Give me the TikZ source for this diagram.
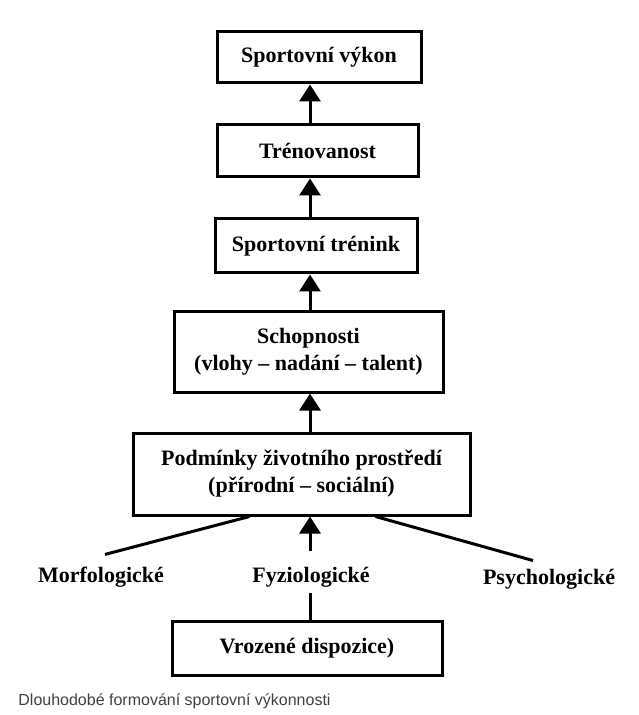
\documentclass[tikz,border=0pt]{standalone}
\usepackage{fontspec}
\setmainfont{Liberation Serif}
\newfontfamily\captionfont{Liberation Sans}
\usetikzlibrary{arrows.meta}

\begin{document}
\begin{tikzpicture}[x=0.5pt,y=-0.5pt]

  \tikzstyle{stage}=[draw, line width=1.5pt, align=center, inner sep=0pt,
                     font=\bfseries\fontsize{11}{13.5}\selectfont]
  \tikzstyle{factor}=[inner sep=0pt, font=\bfseries\fontsize{11}{13.5}\selectfont]
  \tikzstyle{up}=[line width=1.5pt, -{Triangle[length=8.5pt,width=10.5pt]}]
  \tikzstyle{link}=[line width=1.5pt]
  \tikzstyle{caption}=[inner sep=0pt, text=black!75,
                       font=\captionfont\fontsize{8}{10}\selectfont]

  \useasboundingbox (0,0) rectangle (638,715);

  \path
  (319,  57.5) node[stage, minimum width=102pt, minimum height=25.5pt](vykon){Sportovní výkon}
  (317.5,151)  node[stage, minimum width=100.5pt, minimum height=26pt](trenovanost){Trénovanost}
  (316,  246)  node[stage, minimum width=101pt, minimum height=27pt](trenink){Sportovní trénink};

  \path
  (308.5,352) node[stage, minimum width=134.5pt, minimum height=40pt](schopnosti){Schopnosti\\(vlohy -- nadání -- talent)}
  (301.5,474) node[stage, minimum width=168.5pt, minimum height=41pt](podminky){Podmínky životního prostředí\\(přírodní -- sociální)};

  \path
  (101,577) node[factor](morf){Morfologické}
  (311,577) node[factor](fyz){Fyziologické}
  (549,579) node[factor](psych){Psychologické};

  \path
  (307,648) node[stage, minimum width=135pt, minimum height=27pt](dispozice){Vrozené dispozice)};

  \path
  (18,701) node[caption, anchor=west](popis){Dlouhodobé formování sportovní výkonnosti};

  \coordinate (axis) at (310,0);

  \draw[up] (trenovanost.north -| axis) -- (vykon.south -| axis);
  \draw[up] (trenink.north -| axis) -- (trenovanost.south -| axis);
  \draw[up] (schopnosti.north -| axis) -- (trenink.south -| axis);
  \draw[up] (podminky.north -| axis) -- (schopnosti.south -| axis);
  \draw[up, shorten <=8pt] (fyz.north -| axis) -- (podminky.south -| axis);

  \draw[link, shorten <=3pt] (fyz.south -| axis) -- (dispozice.north -| axis);
  \draw[link] ([xshift=2pt,yshift=6pt]morf.north) -- ([xshift=-26pt]podminky.south);
  \draw[link] ([xshift=-8pt,yshift=4pt]psych.north) -- ([xshift=37pt]podminky.south);

\end{tikzpicture}
\end{document}
